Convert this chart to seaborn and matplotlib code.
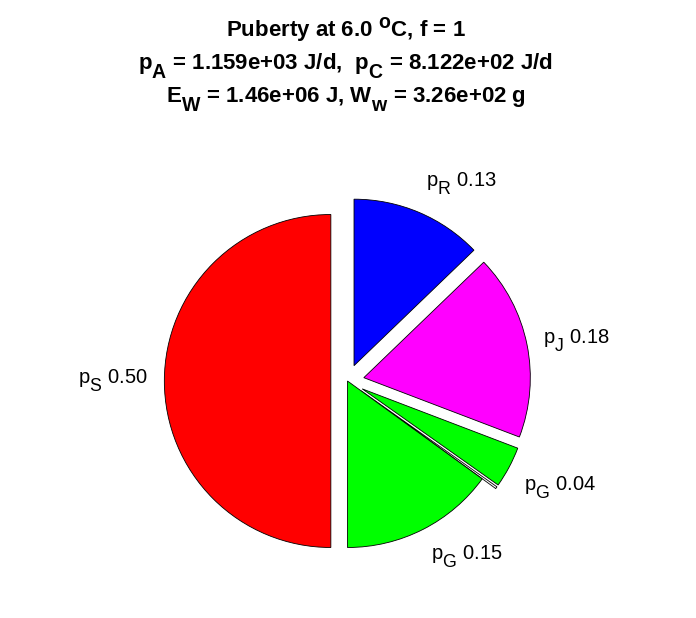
import numpy as np
import seaborn as sns
import matplotlib.pyplot as plt
import matplotlib._mathtext as mathtext_core

# energy flux fractions at puberty, clockwise from the top
flux_names = ['R', 'J', 'G', '', 'G', 'S']
fractions = [0.128, 0.180, 0.040, 0.002, 0.150, 0.500]
slice_colors = ['#0000ff', '#ff00ff', '#00ff00', '#ffffff', '#00ff00', '#ff0000']
explode = [0.1, 0.1, 0.1, 0.1, 0.0, 0.1]

title_lines = [
    r"Puberty at 6.0 $\mathbf{^{o}}$C, f = 1",
    r"$\mathbf{p_A}$ = 1.159e+03 J/d,  $\mathbf{p_C}$ = 8.122e+02 J/d",
    r"$\mathbf{E_W}$ = 1.46e+06 J, $\mathbf{W_w}$ = 3.26e+02 g",
]

sns.set_theme(style="white")
plt.rcParams['font.family'] = ['Liberation Sans', 'DejaVu Sans']
plt.rcParams['text.color'] = 'black'
plt.rcParams['mathtext.fontset'] = 'custom'
plt.rcParams['mathtext.rm'] = 'Liberation Sans'
plt.rcParams['mathtext.bf'] = 'Liberation Sans:bold'
plt.rcParams['mathtext.it'] = 'Liberation Sans:italic'
# MATLAB-style sub/superscripts: nearly full size, dropped lower
mathtext_core.SHRINK_FACTOR = 0.88
mathtext_core.FontConstantsBase.sub1 = 0.75
mathtext_core.FontConstantsBase.sub2 = 0.9

W, H = 696, 618
cx, cy, rad = 347.5, 381.0, 166.5  # pie centre and radius in pixels

fig = plt.figure(figsize=(W / 100, H / 100), dpi=100)
ax = fig.add_axes([0, 0, 1, 1])

labels = ["" if n == "" else r"$\mathrm{p_%s}$ %.2f" % (n, v)
          for n, v in zip(flux_names, fractions)]

wedges, texts = ax.pie(fractions, explode=explode, colors=slice_colors,
                       labels=labels, labeldistance=1.1, startangle=90,
                       counterclock=False, radius=1.0,
                       wedgeprops=dict(edgecolor='black', linewidth=0.6),
                       textprops=dict(fontsize=14.5, color='black'))

for w, t in zip(wedges, texts):
    ang = np.deg2rad((w.theta1 + w.theta2) / 2)
    s = np.sin(ang)
    t.set_ha('left' if np.cos(ang) > 0 else 'right')
    if s > 0.3:
        t.set_va('bottom')
    elif s < -0.3:
        t.set_va('top')
    else:
        t.set_va('center')

ax.set_xlim(-cx / rad, (W - cx) / rad)
ax.set_ylim(-(H - cy) / rad, cy / rad)
ax.axis('off')

for line, base in zip(title_lines, [37, 69, 102]):
    fig.text(0.497, 1 - base / H, line, ha='center', va='baseline',
             fontsize=16, fontweight='bold', color='black')

fig.savefig('out.png', dpi=100)
